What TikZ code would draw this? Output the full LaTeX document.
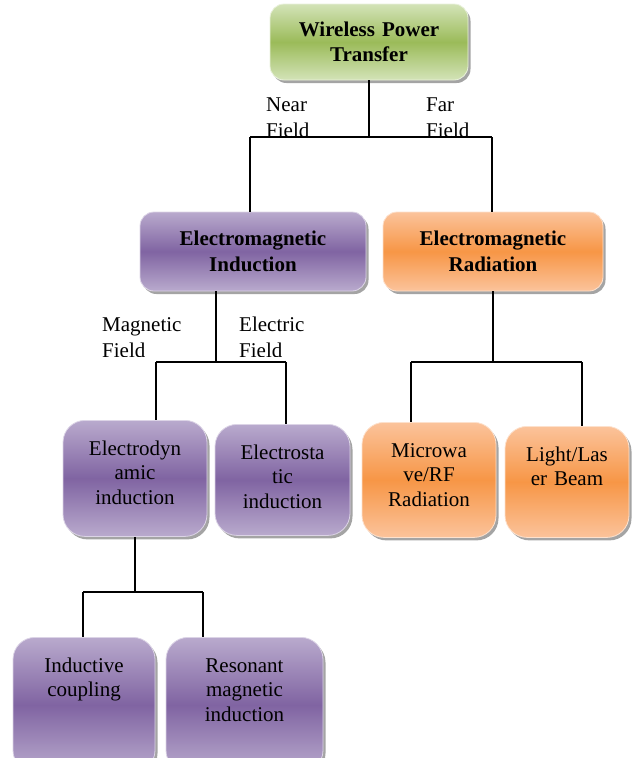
\documentclass[tikz,border=0pt]{standalone}
\usepackage{fontspec}
\setmainfont{Liberation Serif}
\usetikzlibrary{shadows}

\definecolor{wptgreen}{HTML}{9BBB59}
\definecolor{wptgreenlt}{HTML}{D3E3B8}
\definecolor{induviolet}{HTML}{8064A2}
\definecolor{induvioletlt}{HTML}{B9AACD}
\definecolor{radorange}{HTML}{F79646}
\definecolor{radorangelt}{HTML}{FBC39B}

\begin{document}
\begin{tikzpicture}[x=1pt, y=-1pt,
	tree/.style={line width=1.3pt},
	box/.style={rounded corners=14pt, inner sep=0pt, align=center, line width=0.8pt,
		drop shadow={shadow xshift=2.5pt, shadow yshift=-3pt, fill=black!65, opacity=.55}},
	greenbox/.style={box, draw=wptgreenlt!50!white, top color=wptgreenlt, bottom color=wptgreenlt, middle color=wptgreen},
	violetbox/.style={box, draw=induvioletlt!50!white, top color=induvioletlt, bottom color=induvioletlt, middle color=induviolet},
	orangebox/.style={box, draw=radorangelt!50!white, top color=radorangelt, bottom color=radorangelt, middle color=radorange},
	headbox/.style 2 args={text width=#1, minimum height=#2, font=\fontsize{21}{25.5}\selectfont\bfseries},
	leafbox/.style 2 args={rounded corners=22pt, anchor=north, text width=#1, text height=35pt, text depth=#2, font=\fontsize{21}{24.5}\selectfont},
	fieldlbl/.style={anchor=base west, align=left, text width=90pt, inner sep=0pt, font=\fontsize{21}{26}\selectfont}]

	\useasboundingbox (0,0) rectangle (632,758);

	% Top level
	\node[greenbox, headbox={198pt}{76pt}] (wpt) at (369,42) {Wireless Power\\Transfer};

	% Second level
	\node[violetbox, headbox={226pt}{79pt}] (emi) at (253,251.5) {Electromagnetic\\Induction};
	\node[orangebox, headbox={220pt}{79pt}] (emr) at (493,251.5) {Electromagnetic\\Radiation};

	% Third level
	\node[violetbox, leafbox={144pt}{81pt}] (edyn) at (135,420) {Electrodyn\\amic\\induction};
	\node[violetbox, leafbox={135pt}{76pt}] (estat) at (282.5,424) {Electrosta\\tic\\induction};
	\node[orangebox, leafbox={134pt}{80pt}] (mw) at (429,422) {Microwa\\ve/RF\\Radiation};
	\node[orangebox, leafbox={124pt}{76pt}] (laser) at (567,426) {Light/Las\\er Beam};

	% Fourth level
	\node[violetbox, leafbox={142pt}{100pt}] (induct) at (84,637) {Inductive\\coupling};
	\node[violetbox, leafbox={157pt}{100pt}] (reson) at (244.5,637) {Resonant\\magnetic\\induction};

	% Near / far field branch
	\coordinate (nearj) at (250,137);
	\coordinate (farj) at (492,137);
	\draw[tree] (wpt.south) -- (wpt.south |- nearj);
	\draw[tree] (nearj) -- (farj);
	\draw[tree] (nearj) -- (nearj |- emi.north);
	\draw[tree] (farj) -- (farj |- emr.north);
	\begin{scope}
		\clip (0,0) rectangle (632,136);
		\node[fieldlbl] (nearlbl) at (266,111) {Near\\Field};
		\node[fieldlbl] (farlbl) at (426,111) {Far\\Field};
	\end{scope}

	% Magnetic / electric field branch
	\coordinate (emij) at (216,362);
	\coordinate (magj) at (156,362);
	\coordinate (elej) at (286,362);
	\draw[tree] (emij |- emi.south) -- (emij);
	\draw[tree] (magj) -- (elej);
	\draw[tree] (magj) -- (magj |- edyn.north);
	\draw[tree] (elej) -- (elej |- estat.north);
	\begin{scope}
		\clip (0,300) rectangle (632,356);
		\node[fieldlbl] (maglbl) at (102,331) {Magnetic\\Field};
		\node[fieldlbl] (elelbl) at (239,331) {Electric\\Field};
	\end{scope}

	% Radiation branch
	\coordinate (mwj) at (411,362);
	\coordinate (laserj) at (582,362);
	\draw[tree] (emr.south) -- (emr.south |- mwj);
	\draw[tree] (mwj) -- (laserj);
	\draw[tree] (mwj) -- (mwj |- mw.north);
	\draw[tree] (laserj) -- (laserj |- laser.north);

	% Electrodynamic branch
	\coordinate (indj) at (83,592);
	\coordinate (resj) at (203,592);
	\draw[tree] (edyn.south) -- (edyn.south |- indj);
	\draw[tree] (indj) -- (resj);
	\draw[tree] (indj) -- (indj |- induct.north);
	\draw[tree] (resj) -- (resj |- reson.north);

\end{tikzpicture}
\end{document}
